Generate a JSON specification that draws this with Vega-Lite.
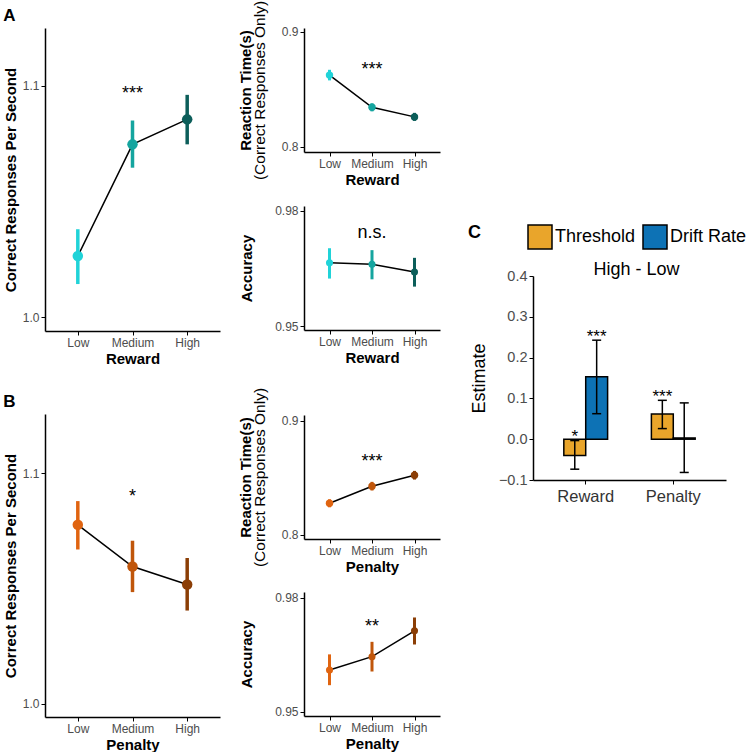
{
"$schema": "https://vega.github.io/schema/vega-lite/v6.json",
"background": "white",
"padding": {"left": 3, "top": 0, "right": 0, "bottom": 0},
"config": {
  "font": "Liberation Sans",
  "view": {"stroke": null},
  "axis": {"grid": false, "domainColor": "black", "domainWidth": 1.5, "tickColor": "black", "tickWidth": 1, "tickSize": 4, "labelColor": "#4d4d4d", "labelFontSize": 12, "labelFont": "Liberation Sans", "titleFont": "Liberation Sans", "titleFontSize": 15, "titleFontWeight": "bold", "titleColor": "black", "labelPadding": 2, "titlePadding": 3},
  "axisX": {"labelAngle": 0},
  "title": {"font": "Liberation Sans", "color": "black"},
  "text": {"font": "Liberation Sans"},
  "legend": {"labelFont": "Liberation Sans", "titleFont": "Liberation Sans"}
},
"datasets": {
  "rewCRS": [{"level": "Low", "mean": 1.0264, "lo": 1.0143, "hi": 1.038}, {"level": "Medium", "mean": 1.0747, "lo": 1.0646, "hi": 1.085}, {"level": "High", "mean": 1.0855, "lo": 1.0747, "hi": 1.0961}],
  "rewRT": [{"level": "Low", "mean": 0.8623, "lo": 0.8577, "hi": 0.8669}, {"level": "Medium", "mean": 0.8343, "lo": 0.8308, "hi": 0.8378}, {"level": "High", "mean": 0.826, "lo": 0.8225, "hi": 0.8295}],
  "rewAcc": [{"level": "Low", "mean": 0.9665, "lo": 0.9624, "hi": 0.9703}, {"level": "Medium", "mean": 0.9661, "lo": 0.9622, "hi": 0.9698}, {"level": "High", "mean": 0.9641, "lo": 0.9603, "hi": 0.9678}],
  "penCRS": [{"level": "Low", "mean": 1.0776, "lo": 1.0669, "hi": 1.0879}, {"level": "Medium", "mean": 1.0595, "lo": 1.0484, "hi": 1.0707}, {"level": "High", "mean": 1.0517, "lo": 1.0404, "hi": 1.0632}],
  "penRT": [{"level": "Low", "mean": 0.8276, "lo": 0.8241, "hi": 0.8311}, {"level": "Medium", "mean": 0.8426, "lo": 0.8388, "hi": 0.8464}, {"level": "High", "mean": 0.8522, "lo": 0.8484, "hi": 0.856}],
  "penAcc": [{"level": "Low", "mean": 0.961, "lo": 0.957, "hi": 0.9651}, {"level": "Medium", "mean": 0.9645, "lo": 0.9606, "hi": 0.9684}, {"level": "High", "mean": 0.9713, "lo": 0.9677, "hi": 0.9748}],
  "est": [{"group": "Reward", "param": "Threshold", "est": -0.04, "lo": -0.0735, "hi": -0.0034}, {"group": "Reward", "param": "Drift Rate", "est": 0.153, "lo": 0.0625, "hi": 0.2427}, {"group": "Penalty", "param": "Threshold", "est": 0.0617, "lo": 0.026, "hi": 0.0953}, {"group": "Penalty", "param": "Drift Rate", "est": 0.003, "lo": -0.0815, "hi": 0.089}]
},
"resolve": {"scale": {"color": "independent"}, "legend": {"color": "independent"}},
"spacing": 28,
"hconcat": [
 {
  "resolve": {"scale": {"color": "independent"}, "legend": {"color": "independent"}},
  "spacing": 18,
  "hconcat": [
   {
    "resolve": {"scale": {"color": "independent"}, "legend": {"color": "independent"}},
    "spacing": 27,
    "vconcat": [
     {
      "width": 175, "height": 303,
      "title": {"text": "A", "anchor": "start", "fontSize": 17, "fontWeight": "bold", "offset": 3, "frame": "bounds"},
      "layer": [
       {"data": {"name": "rewCRS"}, "mark": {"type": "line", "color": "black", "strokeWidth": 1.5},
        "encoding": {"x": {"field": "level", "type": "ordinal", "sort": ["Low", "Medium", "High"], "scale": {"type": "point", "padding": 0.6}, "axis": {"title": "Reward"}},
         "y": {"field": "mean", "type": "quantitative", "scale": {"domain": [0.994, 1.125], "nice": false, "zero": false}, "axis": {"title": "Correct Responses Per Second", "values": [1.0, 1.1], "format": ".1f", "titlePadding": 4}},
         "order": {"value": null}}},
       {"data": {"name": "rewCRS"}, "mark": {"type": "rule", "strokeWidth": 3.5},
        "encoding": {"x": {"field": "level", "type": "ordinal", "sort": ["Low", "Medium", "High"]},
         "y": {"field": "lo", "type": "quantitative", "scale": {"domain": [0.994, 1.125], "nice": false, "zero": false}}, "y2": {"field": "hi"},
         "color": {"field": "level", "type": "nominal", "scale": {"domain": ["Low", "Medium", "High"], "range": ["#20d3d8", "#15a59f", "#0c5e5a"]}, "legend": null}}},
       {"data": {"name": "rewCRS"}, "mark": {"type": "point", "filled": true, "opacity": 1, "size": 110},
        "encoding": {"x": {"field": "level", "type": "ordinal", "sort": ["Low", "Medium", "High"]},
         "y": {"field": "mean", "type": "quantitative", "scale": {"domain": [0.994, 1.125], "nice": false, "zero": false}},
         "color": {"field": "level", "type": "nominal", "scale": {"domain": ["Low", "Medium", "High"], "range": ["#20d3d8", "#15a59f", "#0c5e5a"]}, "legend": null}}},
       {"data": {"values": [{"level": "Medium", "y": 1.0945, "label": "***"}]}, "mark": {"type": "text", "fontSize": 18, "baseline": "alphabetic", "color": "black"},
        "encoding": {"x": {"field": "level", "type": "ordinal", "sort": ["Low", "Medium", "High"]},
         "y": {"field": "y", "type": "quantitative", "scale": {"domain": [0.994, 1.125], "nice": false, "zero": false}}, "text": {"field": "label"}}}
      ]
     },
     {
      "width": 175, "height": 303,
      "title": {"text": "B", "anchor": "start", "fontSize": 17, "fontWeight": "bold", "offset": 3, "frame": "bounds"},
      "layer": [
       {"data": {"name": "penCRS"}, "mark": {"type": "line", "color": "black", "strokeWidth": 1.5},
        "encoding": {"x": {"field": "level", "type": "ordinal", "sort": ["Low", "Medium", "High"], "scale": {"type": "point", "padding": 0.6}, "axis": {"title": "Penalty"}},
         "y": {"field": "mean", "type": "quantitative", "scale": {"domain": [0.9942, 1.1257], "nice": false, "zero": false}, "axis": {"title": "Correct Responses Per Second", "values": [1.0, 1.1], "format": ".1f", "titlePadding": 4}},
         "order": {"value": null}}},
       {"data": {"name": "penCRS"}, "mark": {"type": "rule", "strokeWidth": 3.5},
        "encoding": {"x": {"field": "level", "type": "ordinal", "sort": ["Low", "Medium", "High"]},
         "y": {"field": "lo", "type": "quantitative", "scale": {"domain": [0.9942, 1.1257], "nice": false, "zero": false}}, "y2": {"field": "hi"},
         "color": {"field": "level", "type": "nominal", "scale": {"domain": ["Low", "Medium", "High"], "range": ["#e06410", "#c0560b", "#8b3e06"]}, "legend": null}}},
       {"data": {"name": "penCRS"}, "mark": {"type": "point", "filled": true, "opacity": 1, "size": 110},
        "encoding": {"x": {"field": "level", "type": "ordinal", "sort": ["Low", "Medium", "High"]},
         "y": {"field": "mean", "type": "quantitative", "scale": {"domain": [0.9942, 1.1257], "nice": false, "zero": false}},
         "color": {"field": "level", "type": "nominal", "scale": {"domain": ["Low", "Medium", "High"], "range": ["#e06410", "#c0560b", "#8b3e06"]}, "legend": null}}},
       {"data": {"values": [{"level": "Medium", "y": 1.0873, "label": "*"}]}, "mark": {"type": "text", "fontSize": 18, "baseline": "alphabetic", "color": "black"},
        "encoding": {"x": {"field": "level", "type": "ordinal", "sort": ["Low", "Medium", "High"]},
         "y": {"field": "y", "type": "quantitative", "scale": {"domain": [0.9942, 1.1257], "nice": false, "zero": false}}, "text": {"field": "label"}}}
      ]
     }
    ]
   },
   {
    "resolve": {"scale": {"color": "independent"}, "legend": {"color": "independent"}},
    "spacing": 22,
    "vconcat": [
     {
      "resolve": {"scale": {"color": "independent"}, "legend": {"color": "independent"}},
      "spacing": 17,
      "vconcat": [
       {
        "width": 136, "height": 124,
        "resolve": {"axis": {"y": "independent"}},
        "layer": [
         {"data": {"name": "rewRT"}, "mark": {"type": "line", "color": "black", "strokeWidth": 1.5},
          "encoding": {"x": {"field": "level", "type": "ordinal", "sort": ["Low", "Medium", "High"], "scale": {"type": "point", "padding": 0.6}, "axis": {"title": "Reward"}},
           "y": {"field": "mean", "type": "quantitative", "scale": {"domain": [0.7955, 0.9032], "nice": false, "zero": false}, "axis": {"orient": "left", "title": "Reaction Time(s)", "labels": false, "ticks": false, "domain": false, "titlePadding": 51}},
           "order": {"value": null}}},
         {"data": {"name": "rewRT"}, "mark": {"type": "rule", "strokeWidth": 3},
          "encoding": {"x": {"field": "level", "type": "ordinal", "sort": ["Low", "Medium", "High"]},
           "y": {"field": "lo", "type": "quantitative", "scale": {"domain": [0.7955, 0.9032], "nice": false, "zero": false}, "axis": {"orient": "left", "title": "(Correct Responses Only)", "titleFontWeight": "normal", "titleFontSize": 15.5, "values": [0.8, 0.9], "format": ".1f", "titlePadding": 14}}, "y2": {"field": "hi"},
           "color": {"field": "level", "type": "nominal", "scale": {"domain": ["Low", "Medium", "High"], "range": ["#20d3d8", "#15a59f", "#0c5e5a"]}, "legend": null}}},
         {"data": {"name": "rewRT"}, "mark": {"type": "point", "filled": true, "opacity": 1, "size": 55},
          "encoding": {"x": {"field": "level", "type": "ordinal", "sort": ["Low", "Medium", "High"]},
           "y": {"field": "mean", "type": "quantitative", "scale": {"domain": [0.7955, 0.9032], "nice": false, "zero": false}, "axis": null},
           "color": {"field": "level", "type": "nominal", "scale": {"domain": ["Low", "Medium", "High"], "range": ["#20d3d8", "#15a59f", "#0c5e5a"]}, "legend": null}}},
         {"data": {"values": [{"level": "Medium", "y": 0.8623, "label": "***"}]}, "mark": {"type": "text", "fontSize": 18, "baseline": "alphabetic", "color": "black"},
          "encoding": {"x": {"field": "level", "type": "ordinal", "sort": ["Low", "Medium", "High"]},
           "y": {"field": "y", "type": "quantitative", "scale": {"domain": [0.7955, 0.9032], "nice": false, "zero": false}, "axis": null}, "text": {"field": "label"}}}
        ]
       },
       {
        "width": 136, "height": 124,
        "layer": [
         {"data": {"name": "rewAcc"}, "mark": {"type": "line", "color": "black", "strokeWidth": 1.5},
          "encoding": {"x": {"field": "level", "type": "ordinal", "sort": ["Low", "Medium", "High"], "scale": {"type": "point", "padding": 0.6}, "axis": {"title": "Reward"}},
           "y": {"field": "mean", "type": "quantitative", "scale": {"domain": [0.949, 0.9813], "nice": false, "zero": false}, "axis": {"title": "Accuracy", "values": [0.95, 0.98], "format": ".2f", "titlePadding": 20}},
           "order": {"value": null}}},
         {"data": {"name": "rewAcc"}, "mark": {"type": "rule", "strokeWidth": 3},
          "encoding": {"x": {"field": "level", "type": "ordinal", "sort": ["Low", "Medium", "High"]},
           "y": {"field": "lo", "type": "quantitative", "scale": {"domain": [0.949, 0.9813], "nice": false, "zero": false}}, "y2": {"field": "hi"},
           "color": {"field": "level", "type": "nominal", "scale": {"domain": ["Low", "Medium", "High"], "range": ["#20d3d8", "#15a59f", "#0c5e5a"]}, "legend": null}}},
         {"data": {"name": "rewAcc"}, "mark": {"type": "point", "filled": true, "opacity": 1, "size": 50},
          "encoding": {"x": {"field": "level", "type": "ordinal", "sort": ["Low", "Medium", "High"]},
           "y": {"field": "mean", "type": "quantitative", "scale": {"domain": [0.949, 0.9813], "nice": false, "zero": false}},
           "color": {"field": "level", "type": "nominal", "scale": {"domain": ["Low", "Medium", "High"], "range": ["#20d3d8", "#15a59f", "#0c5e5a"]}, "legend": null}}},
         {"data": {"values": [{"level": "Medium", "y": 0.973, "label": "n.s."}]}, "mark": {"type": "text", "fontSize": 18, "baseline": "alphabetic", "color": "black"},
          "encoding": {"x": {"field": "level", "type": "ordinal", "sort": ["Low", "Medium", "High"]},
           "y": {"field": "y", "type": "quantitative", "scale": {"domain": [0.949, 0.9813], "nice": false, "zero": false}}, "text": {"field": "label"}}}
        ]
       }
      ]
     },
     {
      "resolve": {"scale": {"color": "independent"}, "legend": {"color": "independent"}},
      "spacing": 17,
      "vconcat": [
       {
        "width": 136, "height": 124,
        "resolve": {"axis": {"y": "independent"}},
        "layer": [
         {"data": {"name": "penRT"}, "mark": {"type": "line", "color": "black", "strokeWidth": 1.5},
          "encoding": {"x": {"field": "level", "type": "ordinal", "sort": ["Low", "Medium", "High"], "scale": {"type": "point", "padding": 0.6}, "axis": {"title": "Penalty"}},
           "y": {"field": "mean", "type": "quantitative", "scale": {"domain": [0.7963, 0.905], "nice": false, "zero": false}, "axis": {"orient": "left", "title": "Reaction Time(s)", "labels": false, "ticks": false, "domain": false, "titlePadding": 51}},
           "order": {"value": null}}},
         {"data": {"name": "penRT"}, "mark": {"type": "rule", "strokeWidth": 3},
          "encoding": {"x": {"field": "level", "type": "ordinal", "sort": ["Low", "Medium", "High"]},
           "y": {"field": "lo", "type": "quantitative", "scale": {"domain": [0.7963, 0.905], "nice": false, "zero": false}, "axis": {"orient": "left", "title": "(Correct Responses Only)", "titleFontWeight": "normal", "titleFontSize": 15.5, "values": [0.8, 0.9], "format": ".1f", "titlePadding": 14}}, "y2": {"field": "hi"},
           "color": {"field": "level", "type": "nominal", "scale": {"domain": ["Low", "Medium", "High"], "range": ["#e06410", "#c0560b", "#8b3e06"]}, "legend": null}}},
         {"data": {"name": "penRT"}, "mark": {"type": "point", "filled": true, "opacity": 1, "size": 55},
          "encoding": {"x": {"field": "level", "type": "ordinal", "sort": ["Low", "Medium", "High"]},
           "y": {"field": "mean", "type": "quantitative", "scale": {"domain": [0.7963, 0.905], "nice": false, "zero": false}, "axis": null},
           "color": {"field": "level", "type": "nominal", "scale": {"domain": ["Low", "Medium", "High"], "range": ["#e06410", "#c0560b", "#8b3e06"]}, "legend": null}}},
         {"data": {"values": [{"level": "Medium", "y": 0.8595, "label": "***"}]}, "mark": {"type": "text", "fontSize": 18, "baseline": "alphabetic", "color": "black"},
          "encoding": {"x": {"field": "level", "type": "ordinal", "sort": ["Low", "Medium", "High"]},
           "y": {"field": "y", "type": "quantitative", "scale": {"domain": [0.7963, 0.905], "nice": false, "zero": false}, "axis": null}, "text": {"field": "label"}}}
        ]
       },
       {
        "width": 136, "height": 124,
        "layer": [
         {"data": {"name": "penAcc"}, "mark": {"type": "line", "color": "black", "strokeWidth": 1.5},
          "encoding": {"x": {"field": "level", "type": "ordinal", "sort": ["Low", "Medium", "High"], "scale": {"type": "point", "padding": 0.6}, "axis": {"title": "Penalty"}},
           "y": {"field": "mean", "type": "quantitative", "scale": {"domain": [0.9489, 0.9815], "nice": false, "zero": false}, "axis": {"title": "Accuracy", "values": [0.95, 0.98], "format": ".2f", "titlePadding": 20}},
           "order": {"value": null}}},
         {"data": {"name": "penAcc"}, "mark": {"type": "rule", "strokeWidth": 3},
          "encoding": {"x": {"field": "level", "type": "ordinal", "sort": ["Low", "Medium", "High"]},
           "y": {"field": "lo", "type": "quantitative", "scale": {"domain": [0.9489, 0.9815], "nice": false, "zero": false}}, "y2": {"field": "hi"},
           "color": {"field": "level", "type": "nominal", "scale": {"domain": ["Low", "Medium", "High"], "range": ["#e06410", "#c0560b", "#8b3e06"]}, "legend": null}}},
         {"data": {"name": "penAcc"}, "mark": {"type": "point", "filled": true, "opacity": 1, "size": 50},
          "encoding": {"x": {"field": "level", "type": "ordinal", "sort": ["Low", "Medium", "High"]},
           "y": {"field": "mean", "type": "quantitative", "scale": {"domain": [0.9489, 0.9815], "nice": false, "zero": false}},
           "color": {"field": "level", "type": "nominal", "scale": {"domain": ["Low", "Medium", "High"], "range": ["#e06410", "#c0560b", "#8b3e06"]}, "legend": null}}},
         {"data": {"values": [{"level": "Medium", "y": 0.9711, "label": "**"}]}, "mark": {"type": "text", "fontSize": 18, "baseline": "alphabetic", "color": "black"},
          "encoding": {"x": {"field": "level", "type": "ordinal", "sort": ["Low", "Medium", "High"]},
           "y": {"field": "y", "type": "quantitative", "scale": {"domain": [0.9489, 0.9815], "nice": false, "zero": false}}, "text": {"field": "label"}}}
        ]
       }
      ]
     }
    ]
   }
  ]
 },
 {
  "resolve": {"scale": {"color": "independent"}, "legend": {"color": "independent"}},
  "spacing": 8,
  "vconcat": [
   {"width": 1, "height": 188, "data": {"values": [{"a": 1}]}, "mark": {"type": "point", "opacity": 0}},
   {
    "width": 193, "height": 204,
    "resolve": {"axis": {"x": "independent"}},
    "layer": [
     {"data": {"name": "est"}, "mark": {"type": "bar", "stroke": "black", "strokeWidth": 1.5},
      "encoding": {
       "x": {"field": "group", "type": "nominal", "sort": ["Reward", "Penalty"], "scale": {"paddingInner": 0.5, "paddingOuter": 0.352}, "axis": {"title": null, "labelFontSize": 16.5, "labelColor": "#333333", "labelPadding": 4}},
       "xOffset": {"field": "param", "type": "nominal", "sort": ["Threshold", "Drift Rate"]},
       "y": {"field": "est", "type": "quantitative", "scale": {"domain": [-0.1, 0.4], "nice": false}, "axis": {"title": "Estimate", "titleFontWeight": "normal", "titleFontSize": 18, "values": [-0.1, 0, 0.1, 0.2, 0.3, 0.4], "format": ".1f", "labelFontSize": 14.5, "titlePadding": 10}},
       "color": {"field": "param", "type": "nominal", "sort": ["Threshold", "Drift Rate"], "scale": {"domain": ["Threshold", "Drift Rate"], "range": ["#e9a52b", "#0d72b5"]},
        "legend": {"orient": "none", "legendX": -65, "legendY": -52, "direction": "horizontal", "title": "C", "titleOrient": "left", "titleAnchor": "start", "titleBaseline": "top", "titleFontSize": 18, "titleFontWeight": "bold", "titleColor": "black", "titlePadding": 46, "symbolType": "square", "symbolSize": 576, "symbolStrokeColor": "black", "symbolStrokeWidth": 1.5, "symbolOpacity": 1, "labelFontSize": 18, "labelColor": "black", "labelOffset": 2, "columnPadding": 4, "padding": 0}}
      }},
     {"mark": {"type": "rule", "color": "black", "strokeWidth": 1.5}, "encoding": {"y": {"datum": 0}}},
     {"data": {"name": "est"}, "mark": {"type": "rule", "color": "black", "strokeWidth": 1.5},
      "encoding": {
       "x": {"field": "group", "type": "nominal", "sort": ["Reward", "Penalty"], "axis": null},
       "xOffset": {"field": "param", "type": "nominal", "sort": ["Threshold", "Drift Rate"]},
       "y": {"field": "lo", "type": "quantitative"}, "y2": {"field": "hi"}}},
     {"data": {"name": "est"}, "mark": {"type": "tick", "color": "black", "thickness": 1.5, "size": 9, "opacity": 1},
      "encoding": {
       "x": {"field": "group", "type": "nominal", "sort": ["Reward", "Penalty"], "axis": null},
       "xOffset": {"field": "param", "type": "nominal", "sort": ["Threshold", "Drift Rate"]},
       "y": {"field": "lo", "type": "quantitative"}}},
     {"data": {"name": "est"}, "mark": {"type": "tick", "color": "black", "thickness": 1.5, "size": 9, "opacity": 1},
      "encoding": {
       "x": {"field": "group", "type": "nominal", "sort": ["Reward", "Penalty"], "axis": null},
       "xOffset": {"field": "param", "type": "nominal", "sort": ["Threshold", "Drift Rate"]},
       "y": {"field": "hi", "type": "quantitative"}}},
     {"data": {"values": [{"group": "Reward", "param": "Threshold", "y": -0.006, "label": "*"}, {"group": "Reward", "param": "Drift Rate", "y": 0.2375, "label": "***"}, {"group": "Penalty", "param": "Threshold", "y": 0.0904, "label": "***"}]},
      "mark": {"type": "text", "fontSize": 17, "baseline": "alphabetic", "color": "black"},
      "encoding": {
       "x": {"field": "group", "type": "nominal", "sort": ["Reward", "Penalty"], "axis": {"orient": "top", "title": "High - Low", "labels": false, "ticks": false, "domain": false, "titleFontWeight": "normal", "titleFontSize": 18, "titleColor": "black", "titlePadding": 2, "titleBaseline": "alphabetic", "titleX": 103}},
       "xOffset": {"field": "param", "type": "nominal", "sort": ["Threshold", "Drift Rate"]},
       "y": {"field": "y", "type": "quantitative"}, "text": {"field": "label"}}}
    ]
   }
  ]
 }
]
}
